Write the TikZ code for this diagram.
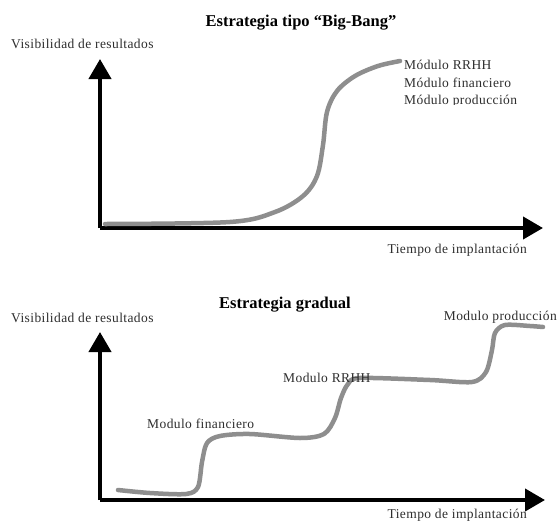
\documentclass[tikz,border=0pt]{standalone}
\usepackage{fontspec}
\setmainfont{Liberation Serif}
\newfontfamily\labfont[LetterSpace=3]{Liberation Serif}
\usetikzlibrary{arrows.meta}
\definecolor{curvegray}{HTML}{8E8E8E}
\definecolor{labgray}{HTML}{2E2E2E}
\tikzset{
  axis/.style={line width=4pt,-{Triangle[length=20pt,width=22pt]}},
  growth/.style={line width=4.5pt,curvegray,line cap=round,line join=round},
  heading/.style={font=\fontsize{16.5}{19}\selectfont\bfseries,inner sep=0pt},
  lab/.style={font=\labfont\fontsize{13.5}{16}\selectfont,text=labgray,inner sep=0pt},
}
\begin{document}
\begin{tikzpicture}[x=1pt,y=-1pt]
\useasboundingbox (0,0) rectangle (558,523);
\fill[white] (0,0) rectangle (558,523);

% ---- Big-Bang strategy ----
\node[heading] (t1) at (301,23) {Estrategia tipo “Big-Bang”};
\node[lab,anchor=west] (v1) at (11,44) {Visibilidad de resultados};
\coordinate (o1) at (100,228);
\coordinate (y1) at (100,59);
\coordinate (x1) at (543,228);
\draw[axis] (o1) -- (y1);
\draw[axis] (o1) -- (x1);
\node[lab,anchor=east] (h1) at (527,250) {Tiempo de implantación};
\draw[growth] plot[smooth,tension=0.55] coordinates {
  (105,224) (230,222) (275,212) (303,196) (317,176) (323,145)
  (327,112) (337,91) (355,76) (378,66) (400,61)};
\node[lab,anchor=west] (m1) at (404,65) {Módulo RRHH};
\node[lab,anchor=west] (m2) at (404,83) {Módulo financiero};
\begin{scope}
  \clip (380,60) rectangle (558,104);
  \node[lab,anchor=west] (m3) at (404,101) {Módulo producción};
\end{scope}

% ---- gradual strategy ----
\node[heading] (t2) at (285,305) {Estrategia gradual};
\node[lab,anchor=west] (v2) at (11,318) {Visibilidad de resultados};
\coordinate (o2) at (100,500);
\coordinate (y2) at (100,332);
\coordinate (x2) at (545,500);
\draw[axis] (o2) -- (y2);
\draw[axis] (o2) -- (x2);
\node[lab,anchor=east] (h2) at (527,515) {Tiempo de implantación};
\node[lab,anchor=west] (g1) at (147,424) {Modulo financiero};
\node[lab,anchor=east] (g3) at (557,317) {Modulo producción};
\draw[growth] plot[smooth,tension=0.5] coordinates {
  (118,490) (150,493) (186,494) (198,487) (202,462) (207,443)
  (220,436) (250,434) (300,438) (324,434) (335,418) (341,398)
  (348,384) (360,378) (430,380) (472,382) (486,372) (492,350)
  (495,333) (505,325) (530,326) (543,327)};
\node[lab,anchor=west] (g2) at (283,378) {Modulo RRHH};
\end{tikzpicture}
\end{document}
